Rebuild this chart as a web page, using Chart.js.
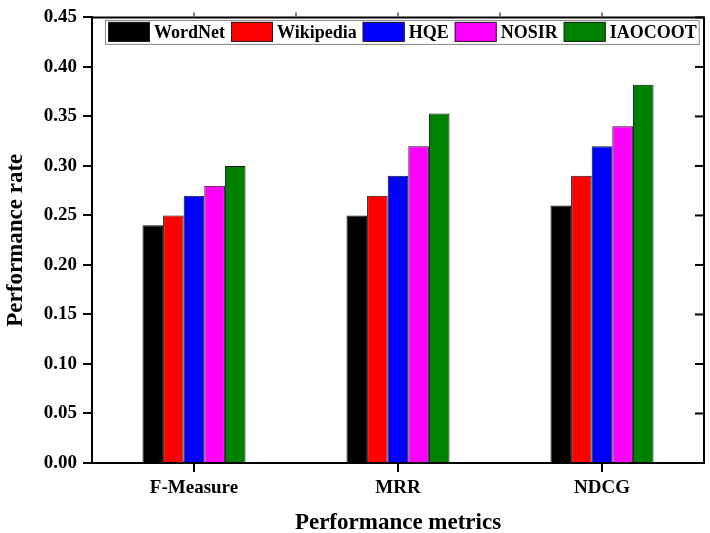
<!DOCTYPE html>
<html>
<head>
<meta charset="utf-8">
<title>Performance rate</title>
<script src="https://cdn.jsdelivr.net/npm/chart.js@4/dist/chart.umd.min.js"></script>
<style>
  html, body { margin: 0; padding: 0; background: #fff; }
  #wrap { width: 710px; height: 533px; }
</style>
</head>
<body>
<div id="wrap"><canvas id="grafico" width="710" height="533"></canvas></div>
<script>
// ========== DATA ==========
const categories = ['F-Measure', 'MRR', 'NDCG'];
const seriesNames = ['WordNet', 'Wikipedia', 'HQE', 'NOSIR', 'IAOCOOT'];
const wordnet   = [0.24, 0.25, 0.26];
const wikipedia = [0.25, 0.27, 0.29];
const hqe       = [0.27, 0.29, 0.32];
const nosir     = [0.28, 0.32, 0.34];
const iaocoot   = [0.30, 0.353, 0.382];
const yTicks = [0, 0.05, 0.10, 0.15, 0.20, 0.25, 0.30, 0.35, 0.40, 0.45];

const colors = ['#000000', '#ff0000', '#0000ff', '#ff00ff', '#008000'];
const FONT = '"Liberation Serif", "Times New Roman", serif';

// ========== PLUGINS ==========
// frame on top/right with the small ticks, and the legend inside the plot
const framePlugin = {
  id: 'frame',
  afterDraw(chart) {
    const ctx = chart.ctx;
    const a = chart.chartArea;
    const x = chart.scales.x;
    const y = chart.scales.y;
    ctx.save();
    ctx.strokeStyle = '#000';
    ctx.lineWidth = 2;
    ctx.beginPath();
    ctx.moveTo(a.left - 1, a.top);
    ctx.lineTo(a.right, a.top);
    ctx.lineTo(a.right, a.bottom + 1);
    ctx.stroke();

    // right axis ticks (inward)
    yTicks.forEach(v => {
      const py = y.getPixelForValue(v);
      ctx.beginPath();
      ctx.moveTo(a.right, py);
      ctx.lineTo(a.right - 9, py);
      ctx.stroke();
    });

    // top axis ticks (outward) at centers and between categories
    ctx.lineWidth = 1.5;
    ctx.strokeStyle = '#555';
    categories.forEach((c, i) => {
      const pts = [x.getPixelForValue(i)];
      if (i < categories.length - 1) pts.push((x.getPixelForValue(i) + x.getPixelForValue(i + 1)) / 2);
      pts.forEach(px => {
        ctx.beginPath();
        ctx.moveTo(px, a.top);
        ctx.lineTo(px, a.top - 5);
        ctx.stroke();
      });
    });

    // legend
    ctx.font = 'bold 18px ' + FONT;
    ctx.textBaseline = 'middle';
    const boxW = 42, boxH = 20, gap = 4, spacing = 6;
    const top = a.top + 2.5, h = 24;
    let cx = 108;
    const startX = 105;
    chart.data.datasets.forEach((ds, i) => {
      ctx.fillStyle = ds.backgroundColor;
      ctx.fillRect(cx, top + 2, boxW, boxH);
      ctx.lineWidth = 1;
      ctx.strokeStyle = '#222';
      ctx.strokeRect(cx + 0.5, top + 2.5, boxW - 1, boxH - 1);
      cx += boxW + gap;
      ctx.fillStyle = '#000';
      ctx.fillText(ds.label, cx, top + h / 2 + 1);
      cx += ctx.measureText(ds.label).width;
      if (i < chart.data.datasets.length - 1) cx += spacing;
    });
    ctx.strokeStyle = '#888';
    ctx.lineWidth = 1;
    ctx.strokeRect(startX + 0.5, top + 0.5, cx + 2 - startX, h);
    ctx.restore();
  }
};

// ========== CHART ==========
const seriesValues = [wordnet, wikipedia, hqe, nosir, iaocoot];

new Chart(document.getElementById('grafico'), {
  type: 'bar',
  data: {
    labels: categories,
    datasets: seriesNames.map((name, i) => ({
      label: name,
      data: seriesValues[i],
      backgroundColor: colors[i],
      borderColor: '#111',
      borderWidth: 1,
      barPercentage: 1,
      categoryPercentage: 0.505
    }))
  },
  options: {
    responsive: false,
    animation: false,
    devicePixelRatio: 1,
    layout: { padding: { top: 6, right: 6, left: 0, bottom: 0 } },
    plugins: {
      legend: { display: false },
      tooltip: { enabled: false }
    },
    scales: {
      x: {
        afterFit(scale) { scale.height = 70; },
        grid: { display: true, offset: false, drawOnChartArea: false, tickLength: 9, tickColor: '#000', lineWidth: 2 },
        border: { display: true, color: '#000', width: 2 },
        ticks: { color: '#000', padding: 5, font: { family: FONT, size: 19, weight: 'bold' } },
        title: {
          display: true,
          text: 'Performance metrics',
          color: '#000',
          padding: { top: 0, bottom: 0 },
          font: { family: FONT, size: 23, weight: 'bold', lineHeight: 0.9 }
        }
      },
      y: {
        min: 0,
        max: 0.45,
        afterFit(scale) { scale.width = 92; },
        afterBuildTicks(scale) { scale.ticks = yTicks.map(v => ({ value: v })); },
        grid: { display: true, drawOnChartArea: false, tickLength: 9, tickColor: '#000', lineWidth: 2 },
        border: { display: true, color: '#000', width: 2 },
        ticks: {
          color: '#000',
          padding: 6,
          font: { family: FONT, size: 19, weight: 'bold' },
          callback: v => Number(v).toFixed(2)
        },
        title: {
          display: true,
          text: 'Performance rate',
          color: '#000',
          padding: { top: 2, bottom: 0 },
          font: { family: FONT, size: 23, weight: 'bold' }
        }
      }
    }
  },
  plugins: [framePlugin]
});
</script>
</body>
</html>
